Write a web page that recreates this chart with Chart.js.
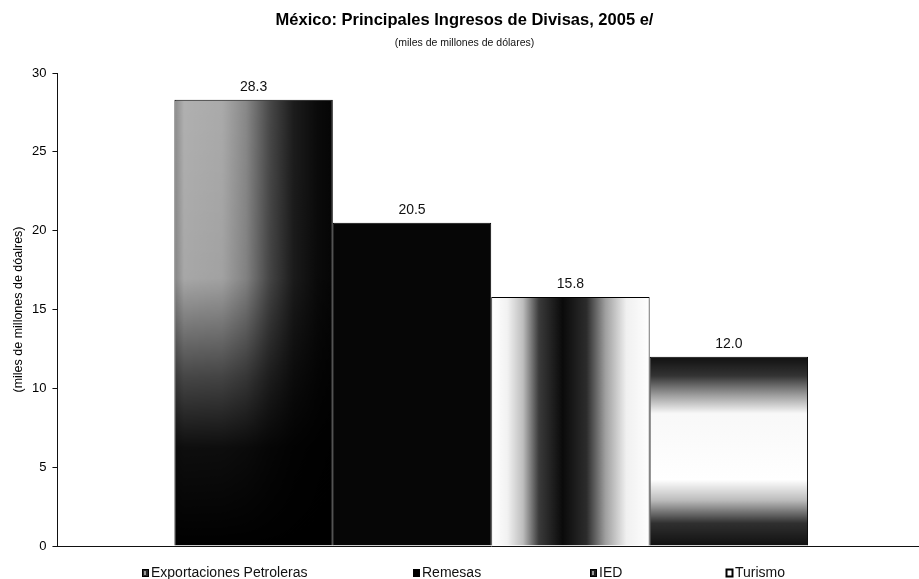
<!DOCTYPE html>
<html>
<head>
<meta charset="utf-8">
<script src="https://cdn.jsdelivr.net/npm/chart.js@4/dist/chart.umd.min.js"></script>
<style>
  html, body { margin: 0; padding: 0; background: #fff; overflow: hidden; width: 919px; height: 579px; }
  canvas { display: block; }
</style>
</head>
<body>
<canvas id="c" width="926" height="579"></canvas>
<script>
// ---- data ----
const categories = [''];
const seriesNames = ['Exportaciones Petroleras', 'Remesas', 'IED', 'Turismo'];
const seriesValues = [28.3, 20.5, 15.8, 12.0];
const yTicks = [0, 5, 10, 15, 20, 25, 30];
const chartTitle = 'México: Principales Ingresos de Divisas, 2005 e/';
const chartSubtitle = '(miles de millones de dólares)';
const yAxisTitle = '(miles de millones de dóalres)';

// ---- styles ----
const FONT = '"Liberation Sans", Arial, Helvetica, sans-serif';
const legendX = [142, 413, 590, 726];
const legendY = 573;

function paintFill(i, g, w, h) {
  if (i === 0) {
    const hg = g.createLinearGradient(0, 0, w, 0);
    hg.addColorStop(0, '#8a8a8a');
    hg.addColorStop(0.06, '#b0b0b0');
    hg.addColorStop(0.3, '#aaaaaa');
    hg.addColorStop(0.45, '#888888');
    hg.addColorStop(0.6, '#484848');
    hg.addColorStop(0.75, '#1c1c1c');
    hg.addColorStop(0.9, '#0a0a0a');
    hg.addColorStop(1, '#050505');
    g.fillStyle = hg; g.fillRect(0, 0, w, h);
    const vg = g.createLinearGradient(0, 0, 0, h);
    vg.addColorStop(0, 'rgba(0,0,0,0)');
    vg.addColorStop(0.4, 'rgba(0,0,0,0.05)');
    vg.addColorStop(0.62, 'rgba(0,0,0,0.6)');
    vg.addColorStop(0.78, 'rgba(0,0,0,0.92)');
    vg.addColorStop(1, 'rgba(0,0,0,1)');
    g.fillStyle = vg; g.fillRect(0, 0, w, h);
  } else if (i === 1) {
    g.fillStyle = '#060606'; g.fillRect(0, 0, w, h);
  } else if (i === 2) {
    const hg = g.createLinearGradient(0, 0, w, 0);
    hg.addColorStop(0, '#ffffff');
    hg.addColorStop(0.1, '#f2f2f2');
    hg.addColorStop(0.2, '#bdbdbd');
    hg.addColorStop(0.3, '#3a3a3a');
    hg.addColorStop(0.45, '#0a0a0a');
    hg.addColorStop(0.6, '#2c2c2c');
    hg.addColorStop(0.72, '#a0a0a0');
    hg.addColorStop(0.85, '#f0f0f0');
    hg.addColorStop(1, '#ffffff');
    g.fillStyle = hg; g.fillRect(0, 0, w, h);
  } else {
    const vg = g.createLinearGradient(0, 0, 0, h);
    vg.addColorStop(0, '#101010');
    vg.addColorStop(0.1, '#333333');
    vg.addColorStop(0.2, '#9a9a9a');
    vg.addColorStop(0.3, '#f8f8f8');
    vg.addColorStop(0.65, '#ffffff');
    vg.addColorStop(0.76, '#bbbbbb');
    vg.addColorStop(0.88, '#303030');
    vg.addColorStop(1, '#101010');
    g.fillStyle = vg; g.fillRect(0, 0, w, h);
  }
}

const barFillPlugin = {
  id: 'barFill',
  beforeDatasetsDraw(chart) {
    const ctx = chart.ctx;
    chart.data.datasets.forEach((ds, i) => {
      const meta = chart.getDatasetMeta(i);
      meta.data.forEach(el => {
        const left = el.x - el.width / 2;
        const top = Math.min(el.y, el.base);
        const w = Math.max(1, Math.ceil(el.width));
        const h = Math.max(1, Math.ceil(Math.abs(el.base - el.y)));
        const off = document.createElement('canvas');
        off.width = w; off.height = h;
        paintFill(i, off.getContext('2d'), w, h);
        const pat = ctx.createPattern(off, 'no-repeat');
        pat.setTransform(new DOMMatrix([1, 0, 0, 1, left, top]));
        el.options.backgroundColor = pat;
      });
    });
  }
};

const valueLabelPlugin = {
  id: 'valueLabels',
  afterDatasetsDraw(chart) {
    const ctx = chart.ctx;
    ctx.save();
    ctx.font = '14px ' + FONT;
    ctx.fillStyle = '#111';
    ctx.textAlign = 'center';
    ctx.textBaseline = 'middle';
    chart.data.datasets.forEach((ds, i) => {
      chart.getDatasetMeta(i).data.forEach((el, j) => {
        ctx.fillText(ds.data[j].toFixed(1), el.x, el.y - 13);
      });
    });
    ctx.restore();
  }
};

const customLegendPlugin = {
  id: 'customLegend',
  afterDraw(chart) {
    const ctx = chart.ctx;
    ctx.save();
    ctx.font = '14px ' + FONT;
    ctx.textBaseline = 'middle';
    ctx.textAlign = 'left';
    chart.data.datasets.forEach((ds, i) => {
      const x = legendX[i];
      const bw = 7, bh = 8;
      const by = legendY - bh / 2;
      const fills = ['#2a2a2a', '#000000', '#1e1e1e', '#ffffff'];
      ctx.fillStyle = fills[i];
      ctx.fillRect(x, by, bw, bh);
      if (i === 0 || i === 2) {
        ctx.fillStyle = '#9a9a9a';
        ctx.fillRect(x + 2, by + 2, 2, 4);
      }
      ctx.strokeStyle = '#000';
      ctx.lineWidth = i === 3 ? 2 : 1;
      ctx.strokeRect(x + 0.5, by + 0.5, bw - 1, bh - 1);
      ctx.fillStyle = '#111';
      ctx.fillText(ds.label, x + 9, legendY);
    });
    ctx.restore();
  }
};

Chart.defaults.font.family = FONT;
Chart.defaults.color = '#000';

new Chart(document.getElementById('c'), {
  type: 'bar',
  data: {
    labels: categories,
    datasets: seriesNames.map((name, i) => ({
      label: name,
      data: [seriesValues[i]],
      backgroundColor: () => '#000',
      borderColor: '#000',
      borderWidth: 1,
      barPercentage: 1,
      categoryPercentage: 0.7304
    }))
  },
  options: {
    responsive: false,
    animation: false,
    events: [],
    layout: { padding: { left: 4, right: 1, top: 0, bottom: 33 } },
    plugins: {
      legend: { display: false },
      tooltip: { enabled: false },
      title: {
        display: true,
        text: chartTitle,
        color: '#000',
        font: { size: 16.5, weight: 'bold', family: FONT },
        padding: { top: 10.1, bottom: 2 }
      },
      subtitle: {
        display: true,
        text: chartSubtitle,
        color: '#111',
        font: { size: 10.5, family: FONT },
        padding: { top: 4.8, bottom: 23.7 }
      }
    },
    scales: {
      x: {
        type: 'category',
        ticks: { display: false },
        grid: { display: false, drawTicks: false },
        border: { display: true, color: '#111', width: 1 }
      },
      y: {
        min: 0,
        max: 30,
        afterBuildTicks: (scale) => { scale.ticks = yTicks.map(v => ({ value: v })); },
        ticks: { padding: 6, color: '#000', font: { size: 13, family: FONT } },
        grid: { drawOnChartArea: false, drawTicks: true, tickLength: 5, color: '#111' },
        border: { display: true, color: '#111', width: 1 },
        title: {
          display: true,
          text: yAxisTitle,
          color: '#000',
          font: { size: 12.5, family: FONT },
          padding: { top: 7, bottom: 0 }
        }
      }
    }
  },
  plugins: [barFillPlugin, valueLabelPlugin, customLegendPlugin]
});
</script>
</body>
</html>
